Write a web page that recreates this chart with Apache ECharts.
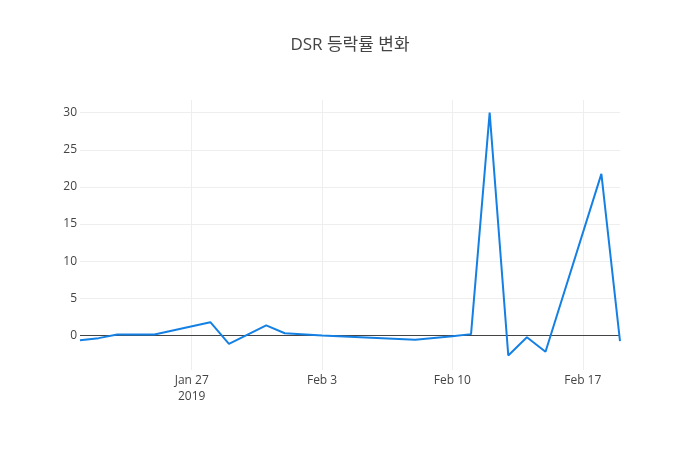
<!DOCTYPE html>
<html>
<head>
<meta charset="utf-8">
<script src="https://cdn.jsdelivr.net/npm/echarts@6/dist/echarts.min.js"></script>
<style>
  html, body { margin: 0; padding: 0; background: #fff; }
  #chart { width: 700px; height: 450px; }
</style>
</head>
<body>
<div id="chart"></div>
<script>
var dates = [
  '2019-01-21', '2019-01-22', '2019-01-23', '2019-01-25', '2019-01-28',
  '2019-01-29', '2019-01-31', '2019-02-01', '2019-02-03', '2019-02-08',
  '2019-02-10', '2019-02-11', '2019-02-12', '2019-02-13', '2019-02-14',
  '2019-02-15', '2019-02-18', '2019-02-19'
];
var dsrChange = [
  -0.63, -0.36, 0.13, 0.13, 1.79,
  -1.12, 1.35, 0.3, 0.0, -0.58,
  -0.1, 0.18, 30.0, -2.69, -0.23,
  -2.2, 21.76, -0.77
];
var yTicks = [0, 5, 10, 15, 20, 25, 30];
var xTicks = ['2019-01-27', '2019-02-03', '2019-02-10', '2019-02-17'];
var monthNames = ['Jan', 'Feb', 'Mar', 'Apr', 'May', 'Jun', 'Jul', 'Aug', 'Sep', 'Oct', 'Nov', 'Dec'];

// dates -> ms timestamps (UTC), x axis is a plain value axis in ms
function ts(s) {
  var p = s.split('-');
  return Date.UTC(+p[0], +p[1] - 1, +p[2]);
}

var chart = echarts.init(document.getElementById('chart'), null, { renderer: 'canvas' });
var font = '"Open Sans", "Noto Sans CJK KR", sans-serif';
var xTickVals = xTicks.map(ts);

chart.setOption({
  animation: false,
  textStyle: { fontFamily: font },
  title: {
    text: 'DSR 등락률 변화',
    left: 'center',
    top: 32,
    textStyle: { fontFamily: font, fontSize: 17, fontWeight: 'normal', color: '#444' }
  },
  grid: { left: 80, right: 80, top: 100, bottom: 80, containLabel: false },
  xAxis: {
    type: 'value',
    min: ts(dates[0]),
    max: ts(dates[dates.length - 1]),
    axisLine: { show: false },
    axisTick: { show: false, customValues: xTickVals },
    splitLine: { show: true, lineStyle: { color: '#eee', width: 1 } },
    axisLabel: {
      customValues: xTickVals,
      color: '#444',
      fontSize: 12,
      fontFamily: font,
      margin: 3,
      lineHeight: 16,
      formatter: function (v) {
        var d = new Date(v);
        var s = monthNames[d.getUTCMonth()] + ' ' + d.getUTCDate();
        if (v === xTickVals[0]) s += '\n' + d.getUTCFullYear();
        return s;
      }
    }
  },
  yAxis: {
    type: 'value',
    min: -4.65,
    max: 31.7,
    axisLine: { show: false },
    axisTick: { show: false, customValues: yTicks },
    splitLine: { show: true, lineStyle: { color: '#eee', width: 1 } },
    axisLabel: {
      customValues: yTicks,
      color: '#444',
      fontSize: 12,
      fontFamily: font,
      margin: 3
    }
  },
  series: [{
    type: 'line',
    data: dates.map(function (d, i) { return [ts(d), dsrChange[i]]; }),
    showSymbol: false,
    symbol: 'none',
    lineStyle: { color: '#1580e3', width: 2 },
    itemStyle: { color: '#1580e3' },
    z: 3,
    markLine: {
      silent: true,
      symbol: 'none',
      label: { show: false },
      lineStyle: { color: '#444', width: 1, type: 'solid' },
      data: [{ yAxis: 0 }],
      z: 2
    }
  }]
});
</script>
</body>
</html>
